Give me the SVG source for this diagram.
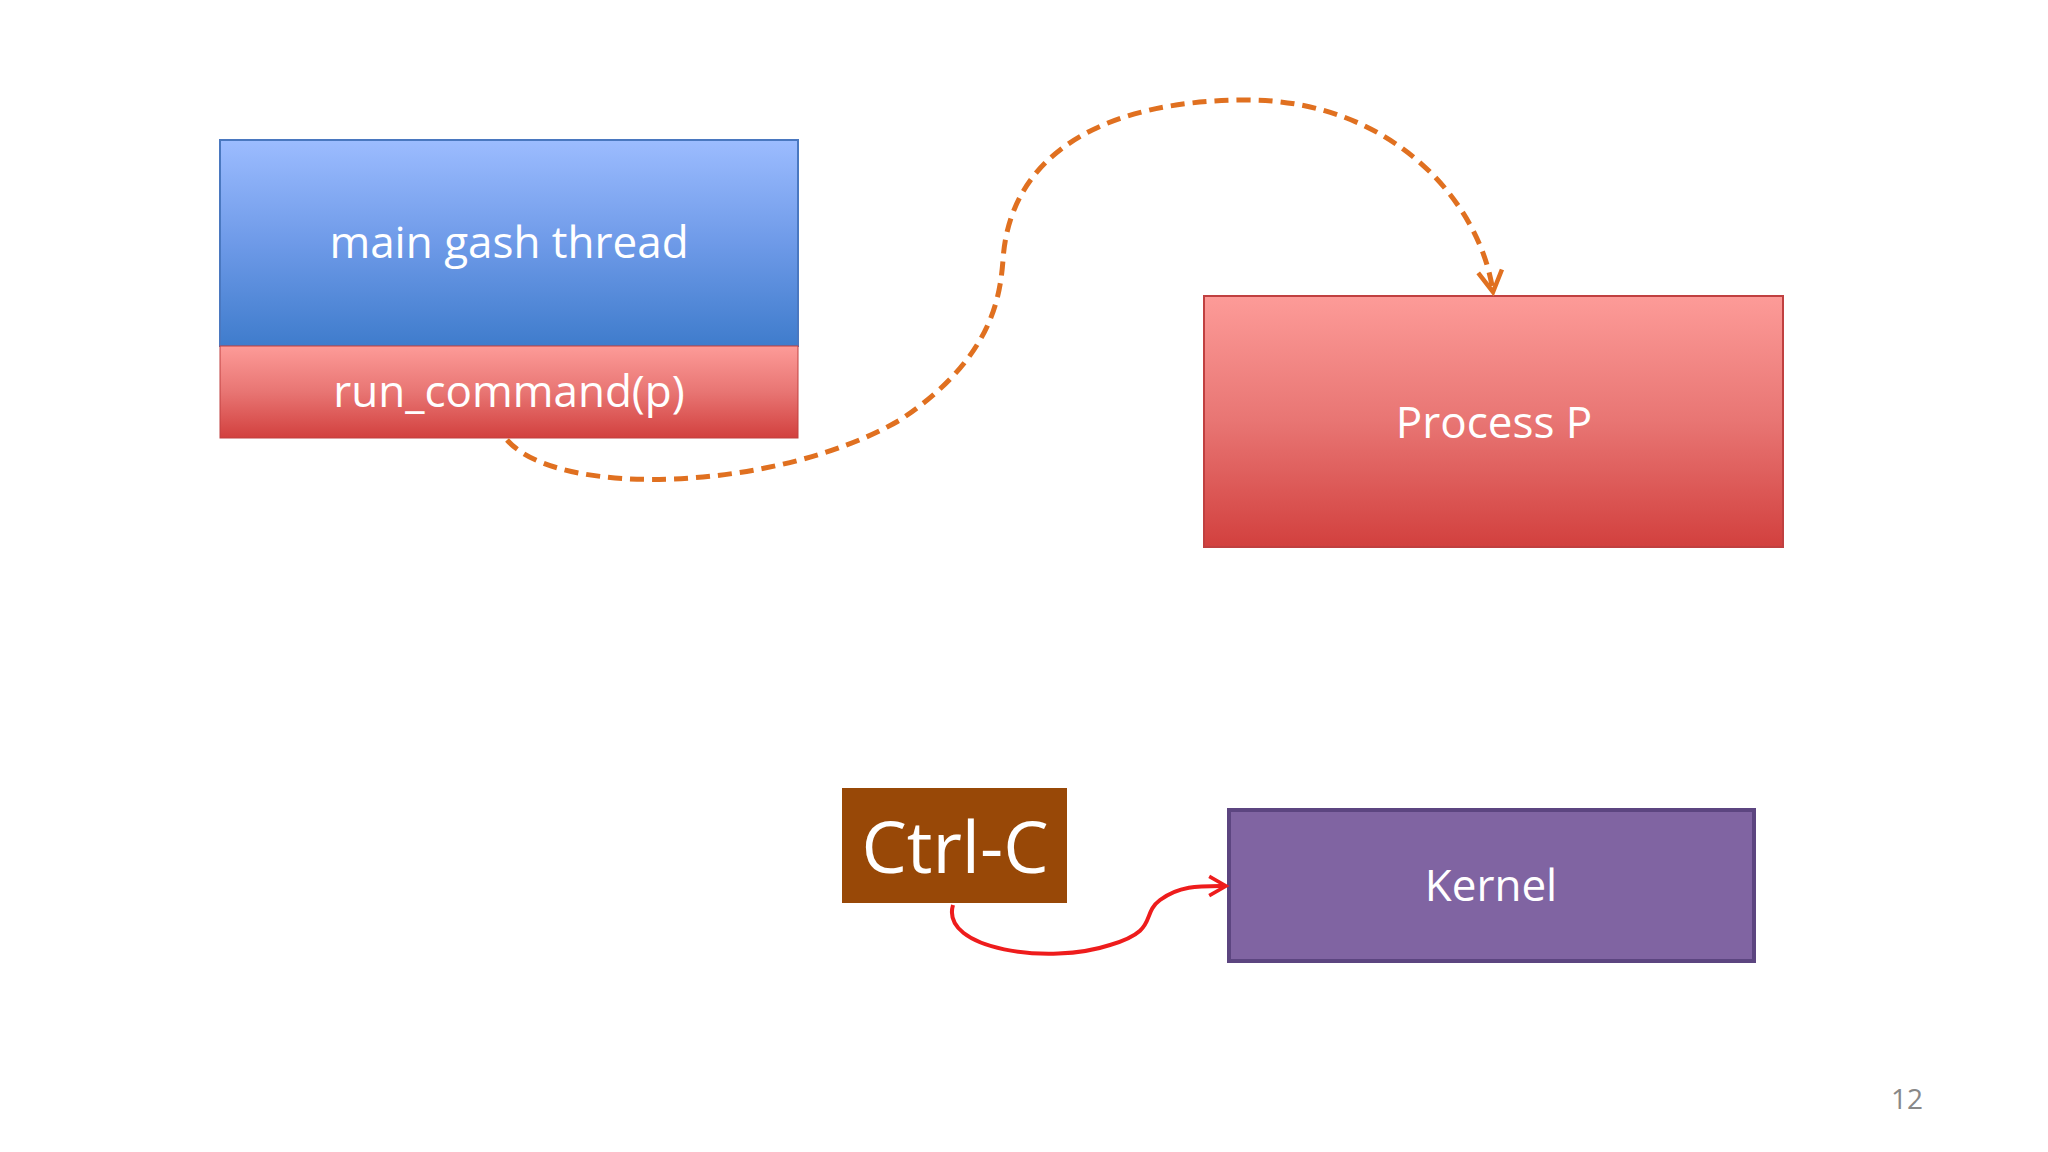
<svg xmlns="http://www.w3.org/2000/svg" width="2048" height="1152" viewBox="0 0 2048 1152">
<defs>
<linearGradient id="gb" x1="0" y1="0" x2="0" y2="1"><stop offset="0" stop-color="#9cbcff"/><stop offset="0.5" stop-color="#6e9ae8"/><stop offset="1" stop-color="#3f7ccc"/></linearGradient>
<linearGradient id="gr" x1="0" y1="0" x2="0" y2="1"><stop offset="0" stop-color="#fd9b98"/><stop offset="0.5" stop-color="#e87573"/><stop offset="1" stop-color="#d2403e"/></linearGradient>
<marker id="ao" viewBox="0 0 10 10" refX="8" refY="5" markerWidth="6" markerHeight="6" orient="auto" markerUnits="strokeWidth"><path d="M1,1 L8,5 L1,9" fill="none" stroke="#e07020" stroke-width="1.5"/></marker>
<marker id="ar" viewBox="0 0 10 10" refX="8" refY="5" markerWidth="6" markerHeight="6" orient="auto" markerUnits="strokeWidth"><path d="M1,1 L8,5 L1,9" fill="none" stroke="#ee1c1c" stroke-width="1.5"/></marker>
<style>text{font-family:"Open Sans","Liberation Sans",sans-serif;fill:#fff;text-anchor:middle}</style>
</defs>
<rect width="2048" height="1152" fill="#fff"/>
<g id="main"><rect x="220" y="140" width="578" height="206" fill="url(#gb)" stroke="#4a78c0" stroke-width="2"/><text x="509" y="258" font-size="44">main gash thread</text></g>
<g id="run"><rect x="220" y="346" width="578" height="92" fill="url(#gr)" stroke="#c04040" stroke-width="1"/><text x="509" y="407" font-size="44">run_command(p)</text></g>
<g id="proc"><rect x="1204" y="296" width="579" height="251" fill="url(#gr)" stroke="#c04040" stroke-width="2"/><text x="1494" y="438" font-size="44">Process P</text></g>
<g id="ctrl"><rect x="842" y="788" width="225" height="115" fill="#984807"/><text x="955" y="873" font-size="72">Ctrl-C</text></g>
<g id="kernel"><rect x="1229" y="810" width="525" height="151" fill="#8064a2" stroke="#5c4580" stroke-width="4"/><text x="1491" y="901" font-size="44">Kernel</text></g>
<text x="1907" y="1109" font-size="28" style="fill:#888">12</text>
<g id="connectors" fill="none">
<path d="M507,440 C560,500 780,490 900,420 C990,360 1000,300 1003,260 C1010,150 1110,100 1247,100 C1390,100 1480,200 1493,292" stroke="#e07020" stroke-width="5" stroke-dasharray="14,8" marker-end="url(#ao)"/>
<path d="M953,905 C940,950 1050,965 1110,945 C1160,930 1140,915 1160,900 C1180,885 1200,886 1226,886" stroke="#ee1c1c" stroke-width="4" marker-end="url(#ar)"/>
</g>
</svg>
